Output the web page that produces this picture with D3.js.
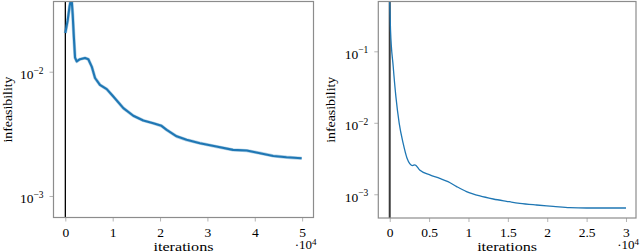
<!DOCTYPE html>
<html>
<head>
<meta charset="utf-8">
<script src="https://cdn.jsdelivr.net/npm/d3@7"></script>
<style>
  body { margin: 0; background: #fff; }
  svg text { font-family: "Liberation Serif", "Times New Roman", serif !important; fill: #000; }
</style>
</head>
<body>
<div id="chart"></div>
<script>
// left run (50k iterations), noisy infeasibility
const leftIter = [0, 500, 900, 1300, 1550, 1800, 2050, 2400, 3100, 4150, 4850, 5570, 6270, 7300,
  8740, 10130, 12250, 14350, 16460, 18570, 20300, 21400, 23500, 25600, 28400, 31900,
  35400, 38300, 41100, 43900, 46700, 49900];
const leftInfeas = [0.0205, 0.026, 0.0337, 0.040, 0.029, 0.0190, 0.0130, 0.0121, 0.0126, 0.0129, 0.0126,
  0.0110, 0.0089, 0.00785, 0.00724, 0.00632, 0.00509, 0.00442, 0.00405, 0.00385, 0.00367,
  0.00340, 0.00302, 0.00283, 0.00266, 0.00250, 0.00235, 0.00232, 0.00221, 0.00210, 0.00205,
  0.00201];

// right run (30k iterations), smooth
const rightIter = [0, 100, 440, 780, 1200, 1700, 2200, 2900, 3200, 3800, 5100, 6350, 7400,
  8500, 9750, 11450, 13140, 14830, 16520, 18640, 20750, 22870, 25000, 27100, 30000];
const rightInfeas = [0.5, 0.20, 0.0617, 0.0234, 0.0099, 0.00519, 0.00320, 0.00252, 0.00258,
  0.00219, 0.00187, 0.00167, 0.00150, 0.00128, 0.00109, 0.000946, 0.000859, 0.000798,
  0.000746, 0.000708, 0.000679, 0.000649, 0.000643, 0.000643, 0.000643];

const leftXTicks = [0, 10000, 20000, 30000, 40000, 50000];
const leftXLabels = ["0", "1", "2", "3", "4", "5"];
const leftYTicks = [1e-3, 1e-2];
const leftYExp = ["−3", "−2"];

const rightXTicks = [0, 5000, 10000, 15000, 20000, 25000, 30000];
const rightXLabels = ["0", "0.5", "1", "1.5", "2", "2.5", "3"];
const rightYTicks = [1e-3, 1e-2, 1e-1];
const rightYExp = ["−3", "−2", "−1"];

const width = 640, height = 251;
const blue = "#1f77b4";
const serif = '"Liberation Serif", "Times New Roman", serif';

const svg = d3.select("#chart").append("svg")
  .attr("width", width)
  .attr("height", height);

function panel(opt) {
  const x = d3.scaleLinear().domain(opt.xDomain).range([opt.left, opt.right]);
  const y = d3.scaleLog().domain(opt.yDomain).range([opt.bottom, opt.top]);
  const g = svg.append("g").attr("font-family", serif);

  // clip for the data
  g.append("clipPath").attr("id", opt.id)
    .append("rect")
    .attr("x", opt.left).attr("y", opt.top)
    .attr("width", opt.right - opt.left).attr("height", opt.bottom - opt.top);

  // vertical line at 0
  g.append("line")
    .attr("x1", x(0)).attr("x2", x(0))
    .attr("y1", opt.top).attr("y2", opt.bottom)
    .attr("stroke", opt.zeroColor)
    .attr("stroke-width", opt.zeroWidth);

  const data = opt.xs.map((d, i) => [d, opt.ys[i]]);
  const line = d3.line().x(d => x(d[0])).y(d => y(d[1])).curve(opt.curve);

  const plot = g.append("g").attr("clip-path", `url(#${opt.id})`);
  if (opt.noisy) {
    plot.append("path").datum(data)
      .attr("d", line).attr("fill", "none")
      .attr("stroke", blue).attr("stroke-opacity", 0.35)
      .attr("stroke-width", opt.lineWidth + 1.2)
      .attr("stroke-linejoin", "round");
  }
  plot.append("path").datum(data)
    .attr("d", line).attr("fill", "none")
    .attr("stroke", blue)
    .attr("stroke-width", opt.lineWidth)
    .attr("stroke-linejoin", "round");

  // x axis
  const xAxis = g.append("g")
    .attr("transform", `translate(0,${opt.bottom})`)
    .call(d3.axisBottom(x).tickValues(opt.xTicks)
      .tickFormat((d, i) => opt.xLabels[i])
      .tickSize(4).tickPadding(5.5));
  xAxis.attr("font-family", serif).attr("font-size", 13.5);
  xAxis.select(".domain").remove();
  xAxis.selectAll(".tick line").attr("stroke", "#b5b5b5");
  xAxis.selectAll(".tick text").attr("fill", "#000");

  // y axis, labels are 10^n
  const yAxis = g.append("g")
    .attr("transform", `translate(${opt.left},0)`)
    .call(d3.axisLeft(y).tickValues(opt.yTicks).tickFormat("").tickSize(4));
  yAxis.select(".domain").remove();
  yAxis.selectAll(".tick line").attr("stroke", "#b5b5b5");
  opt.yTicks.forEach((v, i) => {
    const t = g.append("text")
      .attr("x", opt.left - 10)
      .attr("y", y(v) + 7.5)
      .attr("text-anchor", "end")
      .attr("font-size", 13.5);
    t.append("tspan").text("10");
    t.append("tspan").attr("dy", -5.5).attr("font-size", 9.5).text(opt.yExp[i]);
  });

  // frame
  g.append("rect")
    .attr("x", opt.left).attr("y", opt.top)
    .attr("width", opt.right - opt.left).attr("height", opt.bottom - opt.top)
    .attr("fill", "none")
    .attr("stroke", "#8c8c8c")
    .attr("stroke-width", 1.2);

  // axis titles
  g.append("text")
    .attr("x", (opt.left + opt.right) / 2)
    .attr("y", 251)
    .attr("text-anchor", "middle")
    .attr("textLength", 60)
    .attr("lengthAdjust", "spacingAndGlyphs")
    .attr("font-size", 13.5)
    .text("iterations");

  const sc = g.append("text")
    .attr("x", opt.right + 3)
    .attr("y", 249)
    .attr("text-anchor", "end")
    .attr("font-size", 13);
  sc.append("tspan").text("·10");
  sc.append("tspan").attr("dy", -4.5).attr("font-size", 9).text("4");

  g.append("text")
    .attr("transform", `translate(${opt.yLabelX},${(opt.top + opt.bottom) / 2}) rotate(-90)`)
    .attr("text-anchor", "middle")
    .attr("textLength", 66)
    .attr("lengthAdjust", "spacingAndGlyphs")
    .attr("font-size", 13.5)
    .text("infeasibility");
}

panel({
  id: "clipLeft",
  left: 53.5, right: 313.5, top: 1.5, bottom: 217.5,
  xDomain: [-2500, 52400],
  yDomain: [Math.pow(10, -3.173), Math.pow(10, -1.435)],
  xs: leftIter, ys: leftInfeas,
  xTicks: leftXTicks, xLabels: leftXLabels,
  yTicks: leftYTicks, yExp: leftYExp,
  zeroColor: "#000", zeroWidth: 1.3,
  lineWidth: 2.1, noisy: true, curve: d3.curveLinear,
  yLabelX: 11.5
});

panel({
  id: "clipRight",
  left: 378.3, right: 636, top: 1.5, bottom: 218,
  xDomain: [-1450, 31270],
  yDomain: [Math.pow(10, -3.332), Math.pow(10, -0.303)],
  xs: rightIter, ys: rightInfeas,
  xTicks: rightXTicks, xLabels: rightXLabels,
  yTicks: rightYTicks, yExp: rightYExp,
  zeroColor: "#3a3a3a", zeroWidth: 2,
  lineWidth: 1.3, noisy: false, curve: d3.curveMonotoneX,
  yLabelX: 334.5
});
</script>
</body>
</html>
